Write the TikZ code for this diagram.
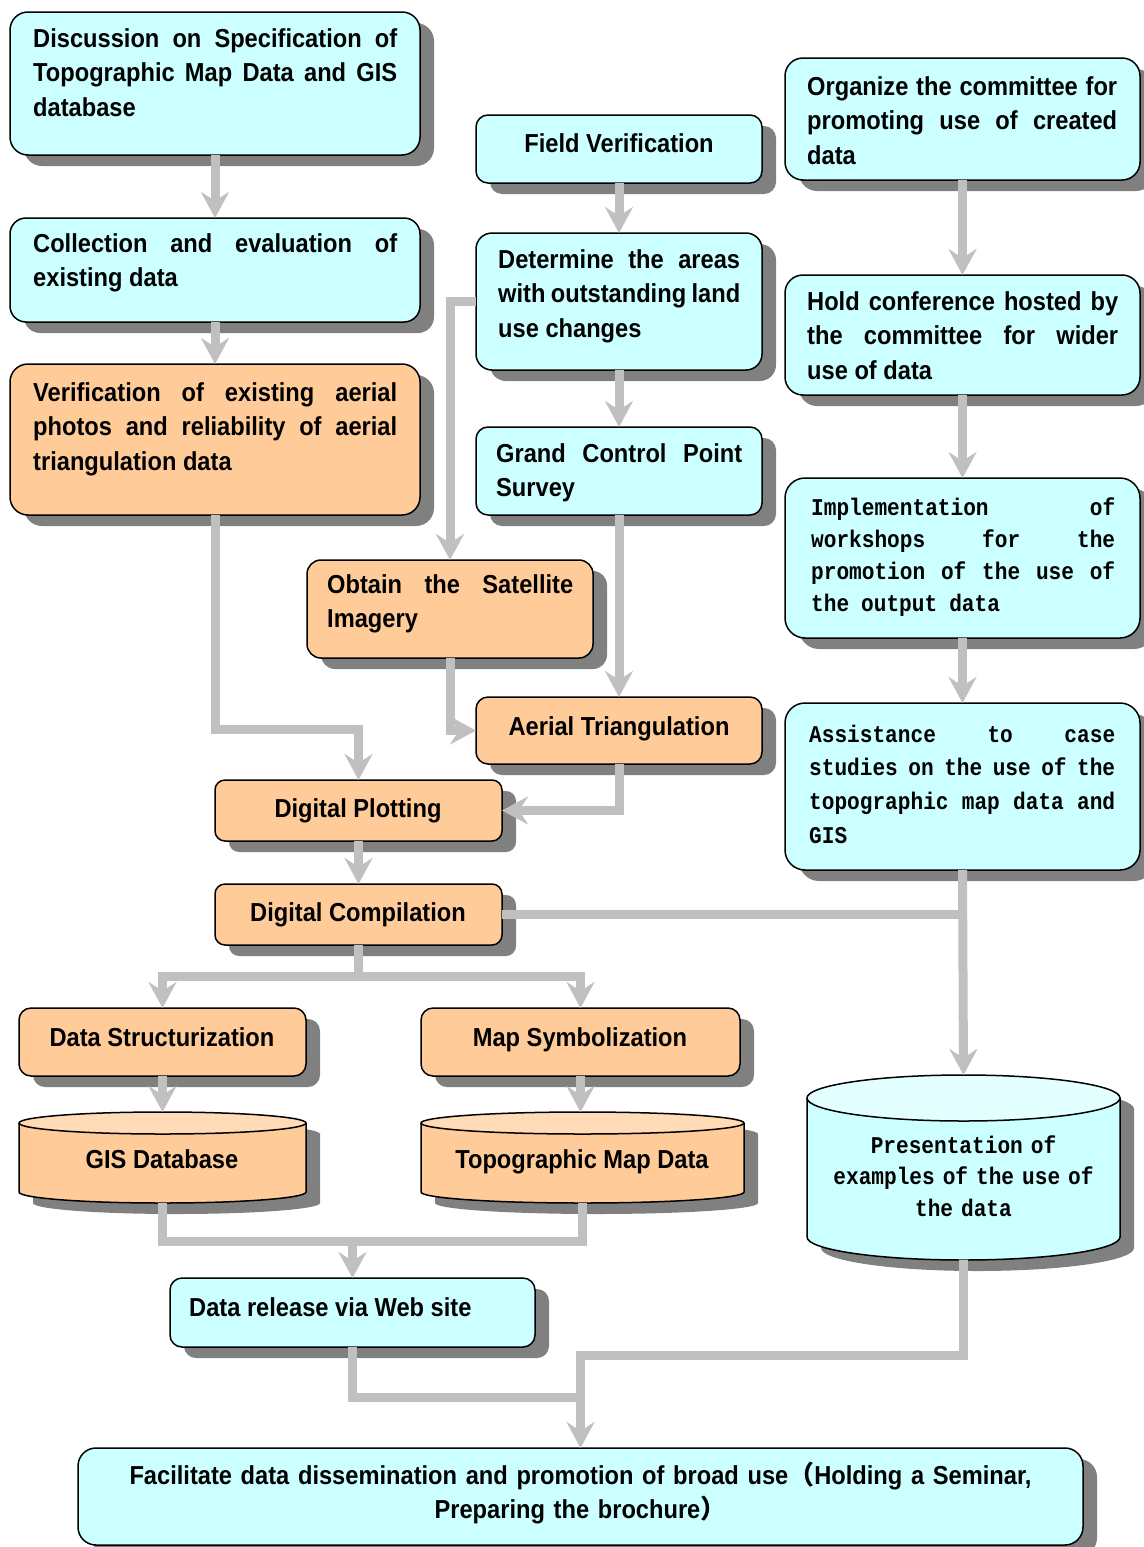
\documentclass[tikz,border=0pt]{standalone}
\usepackage{fontspec}
\usetikzlibrary{arrows.meta,shadows}

\newfontfamily\boxfont{Liberation Sans}[FakeStretch=0.91]
\newfontfamily\spacedfont{Liberation Mono}[FakeStretch=0.88]
\newfontfamily\cjkfont{Noto Sans CJK JP}

\definecolor{cyanbox}{HTML}{CCFFFF}
\definecolor{orangebox}{HTML}{FFCC99}
\definecolor{shadowgray}{HTML}{808080}
\definecolor{linkgray}{HTML}{C0C0C0}

\hyphenpenalty=10000
\exhyphenpenalty=10000
\tolerance=10000
\hbadness=10000

% first-line struts for top-aligned paragraphs
\newcommand\toprule{\rule{0pt}{21pt}}
\newcommand\monotop{\rule{0pt}{19pt}}

% drum (cylinder) outline: x1, ytop, x2, ybottom, y-radius, body colour, lid colour
\newcommand\drum[7]{%
  \pgfmathsetmacro\dcx{(#1+#3)/2}%
  \pgfmathsetmacro\drx{(#3-#1)/2}%
  \pgfmathsetmacro\dyt{#2+#5}%
  \pgfmathsetmacro\dyb{#4-#5}%
  \pgfmathsetmacro\dyk{\dyb+0.5523*#5}%
  \pgfmathsetmacro\dxl{\dcx-0.5523*\drx}%
  \pgfmathsetmacro\dxr{\dcx+0.5523*\drx}%
  \begin{scope}[shift={(14,11)}]
    \fill[shadowgray] (#1,\dyt) -- (#1,\dyb) .. controls (#1,\dyk) and (\dxl,#4) .. (\dcx,#4)
      .. controls (\dxr,#4) and (#3,\dyk) .. (#3,\dyb) -- (#3,\dyt) -- cycle;
    \fill[shadowgray] (\dcx,\dyt) ellipse [x radius=\drx, y radius=#5];
  \end{scope}
  \fill[#6] (#1,\dyt) -- (#1,\dyb) .. controls (#1,\dyk) and (\dxl,#4) .. (\dcx,#4)
      .. controls (\dxr,#4) and (#3,\dyk) .. (#3,\dyb) -- (#3,\dyt) -- cycle;
  \draw[line width=1.5pt] (#1,\dyt) -- (#1,\dyb) .. controls (#1,\dyk) and (\dxl,#4) .. (\dcx,#4)
      .. controls (\dxr,#4) and (#3,\dyk) .. (#3,\dyb) -- (#3,\dyt);
  \filldraw[fill=#7, line width=1.5pt] (\dcx,\dyt) ellipse [x radius=\drx, y radius=#5];
}

\tikzset{
  boxbase/.style={draw=black, line width=1.5pt, rounded corners=#1, anchor=north west,
    inner sep=0pt, outer sep=0pt,
    drop shadow={shadow xshift=14pt, shadow yshift=-11pt, fill=shadowgray, opacity=1}},
  boxbase/.default=14pt,
  cbox/.style={boxbase=#1, fill=cyanbox},
  cbox/.default=14pt,
  obox/.style={boxbase=#1, fill=orangebox},
  obox/.default=14pt,
  drumarea/.style={anchor=north west, inner sep=0pt, outer sep=0pt},
  txt/.style={anchor=north west, inner sep=0pt, text width=#1, align=justify,
    font=\boxfont\bfseries\fontsize{26pt}{34.5pt}\selectfont},
  ctxt/.style={anchor=base, inner sep=0pt,
    font=\boxfont\bfseries\fontsize{26pt}{34.5pt}\selectfont},
  mtxt/.style={anchor=north west, inner sep=0pt, text width=#1, align=justify,
    font=\spacedfont\bfseries\fontsize{24pt}{32pt}\selectfont},
  link/.style={draw=linkgray, line width=9pt},
  conn/.style={link, -{Stealth[length=26pt, width=28pt, inset=9pt]}},
}

\begin{document}
\begin{tikzpicture}[x=1pt, y=-1pt]
\useasboundingbox (0,0) rectangle (1143,1547);

% ---- left column ----
\node[cbox=18pt, minimum width=410, minimum height=143] (disc) at (10,12) {};
\node[txt=364] (disc-t) at (33,26) {\toprule Discussion on Specification of\linebreak Topographic Map Data and GIS\linebreak database};

\node[cbox=16pt, minimum width=410, minimum height=104] (coll) at (10,218) {};
\node[txt=364] (coll-t) at (33,231) {\toprule Collection and evaluation of\linebreak existing data};

\node[obox=18pt, minimum width=410, minimum height=151] (verif) at (10,364) {};
\node[txt=364] (verif-t) at (33,380) {\toprule Verification of existing aerial\linebreak photos and reliability of aerial\linebreak triangulation data};

% ---- middle column ----
\node[cbox=12pt, minimum width=286, minimum height=68] (field) at (476,115) {};
\node[ctxt] (field-t) at (619,152) {Field Verification};

\node[cbox=16pt, minimum width=286, minimum height=137] (determ) at (476,233) {};
\node[txt=242] (determ-t) at (498,247) {\toprule Determine the areas\linebreak with outstanding land\linebreak use changes};

\node[cbox=12pt, minimum width=286, minimum height=88] (grand) at (476,427) {};
\node[txt=246] (grand-t) at (496,441) {\toprule Grand Control Point\linebreak Survey};

\node[obox=14pt, minimum width=286, minimum height=98] (obtain) at (307,560) {};
\node[txt=246] (obtain-t) at (327,572) {\toprule Obtain the Satellite\linebreak Imagery};

\node[obox=12pt, minimum width=286, minimum height=67] (aerial) at (476,697) {};
\node[ctxt] (aerial-t) at (619,735) {Aerial Triangulation};

\node[obox=10pt, minimum width=287, minimum height=61] (dplot) at (215,780) {};
\node[ctxt] (dplot-t) at (358,817) {Digital Plotting};

\node[obox=10pt, minimum width=287, minimum height=61] (dcomp) at (215,884) {};
\node[ctxt] (dcomp-t) at (358,921) {Digital Compilation};

\node[obox=12pt, minimum width=287, minimum height=68] (dstruct) at (19,1008) {};
\node[ctxt] (dstruct-t) at (162,1046) {Data Structurization};

\node[obox=12pt, minimum width=319, minimum height=68] (msym) at (421,1008) {};
\node[ctxt] (msym-t) at (580,1046) {Map Symbolization};

% ---- data stores ----
\drum{19}{1112}{306}{1203}{11}{orangebox}{orangebox!70!white}
\node[drumarea, minimum width=287, minimum height=91] (gisdb) at (19,1112) {};
\node[ctxt] (gisdb-t) at (162,1168) {GIS Database};

\drum{421}{1112}{744}{1203}{11}{orangebox}{orangebox!70!white}
\node[drumarea, minimum width=323, minimum height=91] (topo) at (421,1112) {};
\node[ctxt] (topo-t) at (582,1168) {Topographic Map Data};

\node[cbox=12pt, minimum width=365, minimum height=69] (release) at (170,1278) {};
\node[ctxt, anchor=base west] (release-t) at (189,1316) {Data release via Web site};

% ---- right column ----
\node[cbox=18pt, minimum width=355, minimum height=122] (org) at (785,58) {};
\node[txt=310] (org-t) at (807,74) {\toprule Organize the committee for\linebreak promoting use of created\linebreak data};

\node[cbox=18pt, minimum width=355, minimum height=120] (hold) at (785,275) {};
\node[txt=311] (hold-t) at (807,289) {\toprule Hold conference hosted by\linebreak the committee for wider\linebreak use of data};

\node[cbox=20pt, minimum width=355, minimum height=160] (impl) at (785,478) {};
\node[mtxt=304] (impl-t) at (811,496) {\spaceskip=12pt plus 60pt minus 2pt\relax\monotop Implementation of\linebreak workshops for the\linebreak promotion of the use of\linebreak the output data};

\node[cbox=20pt, minimum width=355, minimum height=167] (assist) at (785,703) {};
\node[mtxt=306, font=\spacedfont\bfseries\fontsize{24pt}{33.7pt}\selectfont] (assist-t) at (809,723) {\spaceskip=12pt plus 60pt minus 2pt\relax\monotop Assistance to case\linebreak studies on the use of the\linebreak topographic map data and\linebreak GIS};

\drum{807}{1075}{1120}{1260}{23}{cyanbox}{cyanbox!55!white}
\node[drumarea, minimum width=313, minimum height=185] (present) at (807,1075) {};
\node[mtxt=320, anchor=north, align=center, font=\spacedfont\bfseries\fontsize{24pt}{31.5pt}\selectfont] (present-t) at (963.5,1134) {\monotop Presentation of\\ examples of the use of\\ the data};

% ---- final step ----
\node[cbox=18pt, minimum width=1005, minimum height=97] (facil) at (78,1448) {};
\node[txt=1000, anchor=north, align=center, font=\boxfont\bfseries\fontsize{26pt}{34pt}\selectfont] (facil-t) at (580.5,1462) {\toprule Facilitate data dissemination and promotion of broad use{\cjkfont （}Holding a Seminar,\\ Preparing the brochure{\cjkfont ）}};

% ---- connectors ----
\coordinate (jB) at ([yshift=-31pt]dcomp.south);
\coordinate (jC) at ([yshift=37pt]release.north);
\coordinate (jD) at ([yshift=51pt]facil.north);

\draw[conn] (disc.south) -- (coll.north);
\draw[conn] (coll.south) -- (verif.north);
\draw[conn] (verif.south) |- ([yshift=51pt]dplot.north) -- (dplot.north);

\draw[conn] (field.south) -- (determ.north);
\draw[conn] (determ.south) -- (grand.north);
\draw[conn] (grand.south) -- (aerial.north);
\draw[conn] (determ.west) -| (obtain.north);
\draw[conn] (obtain.south) |- (aerial.west);
\draw[conn] (aerial.south) |- (dplot.east);
\draw[conn] (dplot.south) -- (dcomp.north);

\draw[conn] (dcomp.south) -- (jB) -| (dstruct.north);
\draw[conn] (jB) -| (msym.north);
\draw[conn] (dstruct.south) -- (gisdb.north);
\draw[conn] (msym.south) -- (msym.south |- topo.north);

\draw[link] (gisdb.south) |- (jC) -| (topo.south);
\draw[conn] (jC) -- (release.north);
\draw[link] (release.south) |- (jD);
\draw[conn] (present.south) |- ([yshift=93pt]facil.north) -- (facil.north);

\draw[conn] (org.south) -- (hold.north);
\draw[conn] (hold.south) -- (impl.north);
\draw[conn] (impl.south) -- (assist.north);
\draw[conn] (assist.south) -- (present.north);
\draw[link] (dcomp.east) -- (dcomp.east -| assist.south);

\end{tikzpicture}
\end{document}
